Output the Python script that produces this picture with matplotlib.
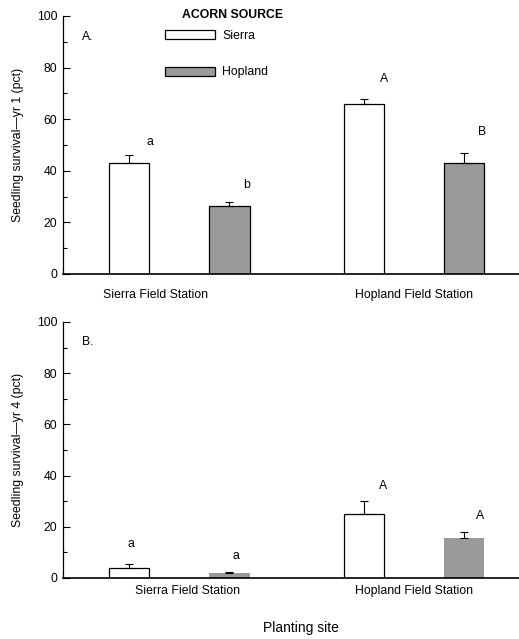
import numpy as np
import matplotlib.pyplot as plt
from matplotlib.patches import Patch

plt.rcParams['font.family'] = ['Liberation Sans', 'DejaVu Sans']

sites = ['Sierra Field Station', 'Hopland Field Station']
sources = ['Sierra', 'Hopland']

# yr 1 survival (pct) and upper SE
yr1_sierra = [43, 66]
yr1_sierra_se = [3, 2]
yr1_hopland = [26.5, 43]
yr1_hopland_se = [1.5, 4]
yr1_letters_sierra = ['a', 'A']
yr1_letters_hopland = ['b', 'B']

# yr 4 survival (pct) and upper SE
yr4_sierra = [4, 25]
yr4_sierra_se = [1.5, 5]
yr4_hopland = [2, 15.5]
yr4_hopland_se = [0.5, 2.5]
yr4_letters_sierra = ['a', 'A']
yr4_letters_hopland = ['a', 'A']

gray = '#9a9a9a'
fs = 8.8
W, H = 519, 639
fig = plt.figure(figsize=(W / 100, H / 100), dpi=100)

def fx(px):
    return px / W

def fy(py):
    return 1 - py / H

ax1 = fig.add_axes([fx(63), fy(274), fx(519 - 63), (274 - 16) / H])
ax2 = fig.add_axes([fx(63), fy(578), fx(519 - 63), (578 - 322) / H])

x = np.arange(len(sites))
off = 0.213
bw = 0.174

def panel(ax, s, s_se, h, h_se, ls, lh, let_y_s, let_y_h, let_dx_s, let_dx_h,
          tick_x, tick_pad, ylab, tag, hop_edge):
    ax.bar(x - off, s, bw, color='white', edgecolor='black', linewidth=0.9)
    ax.bar(x + off, h, bw, color=gray, edgecolor=hop_edge, linewidth=0.9)
    ax.errorbar(x - off, s, yerr=[np.zeros(len(s)), s_se], fmt='none',
                ecolor='black', elinewidth=0.8, capsize=3, capthick=0.8)
    ax.errorbar(x + off, h, yerr=[np.zeros(len(h)), h_se], fmt='none',
                ecolor='black', elinewidth=0.8, capsize=3, capthick=0.8)
    for i in range(len(sites)):
        ax.text(x[i] - off + let_dx_s[i], let_y_s[i], ls[i], ha='center', va='center', fontsize=fs)
        ax.text(x[i] + off + let_dx_h[i], let_y_h[i], lh[i], ha='center', va='center', fontsize=fs)
    ax.set_xlim(-0.494, 1.447)
    ax.set_ylim(0, 100)
    ax.set_yticks(np.arange(0, 101, 20))
    ax.set_yticks(np.arange(0, 101, 10), minor=True)
    ax.tick_params(axis='y', which='major', direction='in', length=5, width=0.8, labelsize=fs, pad=4)
    ax.tick_params(axis='y', which='minor', direction='in', length=3, width=0.8)
    ax.set_xticks(tick_x)
    ax.set_xticklabels(sites)
    ax.tick_params(axis='x', length=0, labelsize=fs, pad=tick_pad)
    for sp in ['top', 'right']:
        ax.spines[sp].set_visible(False)
    ax.spines['left'].set_linewidth(0.9)
    ax.spines['bottom'].set_linewidth(1.2)
    ax.set_ylabel(ylab, fontsize=fs, labelpad=9)
    ax.text(0.055, 0.92, tag, transform=ax.transAxes, fontsize=fs, ha='center', va='center')

panel(ax1, yr1_sierra, yr1_sierra_se, yr1_hopland, yr1_hopland_se,
      yr1_letters_sierra, yr1_letters_hopland,
      [51.2, 75.6], [34.5, 55.0], [0.087, 0.087], [0.075, 0.075],
      [-0.1, 1.0], 11, 'Seedling survival\u2014yr 1 (pct)', 'A.', 'black')
panel(ax2, yr4_sierra, yr4_sierra_se, yr4_hopland, yr4_hopland_se,
      yr4_letters_sierra, yr4_letters_hopland,
      [13.3, 35.9], [8.6, 24.2], [0.01, 0.08], [0.03, 0.07],
      [0.034, 1.0], 5, 'Seedling survival\u2014yr 4 (pct)', 'B.', 'none')

# legend
fig.text(fx(233), fy(15), 'ACORN SOURCE', fontsize=fs, fontweight='bold', ha='center', va='center')
handles = [Patch(facecolor='white', edgecolor='black', linewidth=0.9),
           Patch(facecolor=gray, edgecolor='black', linewidth=0.9)]
fig.legend(handles, sources, loc='upper left', bbox_to_anchor=(fx(165), fy(30)),
           frameon=False, fontsize=fs, handlelength=4.1, handleheight=0.8,
           labelspacing=2.0, handletextpad=0.6, borderpad=0, borderaxespad=0)

fig.text(fx(301), fy(628), 'Planting site', fontsize=10, ha='center', va='center')

fig.savefig('out.png', dpi=100)
